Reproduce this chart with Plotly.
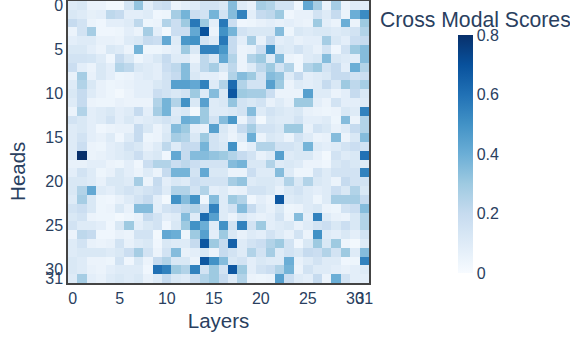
import plotly.graph_objects as go

layers = list(range(32))
heads = list(range(32))
tick_vals = [0, 5, 10, 15, 20, 25, 30, 31]

head_00 = [0.10, 0.12, 0.05, 0.05, 0.02, 0.02, 0.14, 0.32, 0.08, 0.16, 0.18, 0.05, 0.08, 0.10, 0.15, 0.15,
           0.12, 0.35, 0.10, 0.06, 0.28, 0.25, 0.15, 0.15, 0.03, 0.42, 0.28, 0.05, 0.28, 0.05, 0.10, 0.08]
head_01 = [0.12, 0.10, 0.07, 0.08, 0.22, 0.20, 0.08, 0.08, 0.10, 0.03, 0.04, 0.28, 0.38, 0.18, 0.15, 0.38,
           0.15, 0.35, 0.55, 0.08, 0.20, 0.22, 0.30, 0.03, 0.06, 0.06, 0.15, 0.10, 0.20, 0.05, 0.40, 0.52]
head_02 = [0.20, 0.15, 0.05, 0.03, 0.08, 0.08, 0.10, 0.22, 0.04, 0.05, 0.25, 0.18, 0.30, 0.58, 0.30, 0.08,
           0.58, 0.18, 0.03, 0.04, 0.06, 0.08, 0.06, 0.08, 0.06, 0.05, 0.30, 0.08, 0.05, 0.40, 0.05, 0.30]
head_03 = [0.05, 0.15, 0.28, 0.03, 0.03, 0.04, 0.08, 0.05, 0.28, 0.08, 0.02, 0.18, 0.18, 0.42, 0.70, 0.05,
           0.50, 0.38, 0.15, 0.12, 0.12, 0.12, 0.35, 0.04, 0.12, 0.10, 0.12, 0.12, 0.10, 0.12, 0.15, 0.25]
head_04 = [0.08, 0.10, 0.10, 0.06, 0.06, 0.05, 0.10, 0.12, 0.20, 0.18, 0.42, 0.10, 0.48, 0.50, 0.15, 0.10,
           0.58, 0.20, 0.08, 0.28, 0.06, 0.20, 0.08, 0.10, 0.06, 0.08, 0.08, 0.28, 0.12, 0.08, 0.18, 0.20]
head_05 = [0.12, 0.12, 0.08, 0.05, 0.12, 0.10, 0.05, 0.38, 0.04, 0.04, 0.06, 0.08, 0.30, 0.12, 0.55, 0.55,
           0.48, 0.20, 0.05, 0.06, 0.18, 0.50, 0.12, 0.10, 0.15, 0.10, 0.06, 0.15, 0.03, 0.15, 0.30, 0.35]
head_06 = [0.15, 0.15, 0.14, 0.10, 0.03, 0.20, 0.12, 0.04, 0.08, 0.12, 0.20, 0.10, 0.10, 0.05, 0.22, 0.12,
           0.42, 0.25, 0.05, 0.25, 0.30, 0.10, 0.35, 0.05, 0.03, 0.10, 0.12, 0.35, 0.12, 0.10, 0.08, 0.35]
head_07 = [0.18, 0.08, 0.05, 0.12, 0.08, 0.25, 0.22, 0.12, 0.10, 0.08, 0.18, 0.22, 0.35, 0.10, 0.22, 0.28,
           0.12, 0.22, 0.05, 0.10, 0.22, 0.30, 0.15, 0.25, 0.03, 0.25, 0.30, 0.15, 0.20, 0.08, 0.40, 0.25]
head_08 = [0.06, 0.28, 0.06, 0.12, 0.08, 0.04, 0.05, 0.08, 0.10, 0.08, 0.15, 0.20, 0.35, 0.12, 0.08, 0.08,
           0.05, 0.25, 0.35, 0.30, 0.15, 0.35, 0.32, 0.10, 0.20, 0.08, 0.10, 0.12, 0.20, 0.20, 0.15, 0.18]
head_09 = [0.10, 0.25, 0.12, 0.06, 0.04, 0.05, 0.06, 0.08, 0.08, 0.12, 0.15, 0.45, 0.45, 0.42, 0.55, 0.10,
           0.25, 0.62, 0.25, 0.15, 0.15, 0.45, 0.30, 0.05, 0.10, 0.08, 0.10, 0.20, 0.12, 0.30, 0.22, 0.28]
head_10 = [0.12, 0.20, 0.10, 0.06, 0.04, 0.02, 0.05, 0.08, 0.08, 0.18, 0.15, 0.12, 0.15, 0.30, 0.10, 0.35,
           0.12, 0.68, 0.30, 0.28, 0.28, 0.18, 0.05, 0.05, 0.05, 0.45, 0.10, 0.10, 0.05, 0.08, 0.20, 0.12]
head_11 = [0.10, 0.20, 0.05, 0.04, 0.04, 0.06, 0.05, 0.05, 0.05, 0.25, 0.38, 0.25, 0.50, 0.12, 0.45, 0.10,
           0.12, 0.32, 0.15, 0.12, 0.15, 0.06, 0.10, 0.06, 0.30, 0.30, 0.08, 0.05, 0.15, 0.08, 0.08, 0.10]
head_12 = [0.05, 0.25, 0.08, 0.10, 0.12, 0.08, 0.10, 0.20, 0.08, 0.28, 0.38, 0.10, 0.12, 0.02, 0.30, 0.10,
           0.10, 0.12, 0.15, 0.35, 0.10, 0.15, 0.12, 0.10, 0.12, 0.06, 0.05, 0.04, 0.05, 0.12, 0.10, 0.55]
head_13 = [0.15, 0.12, 0.08, 0.10, 0.15, 0.08, 0.12, 0.08, 0.10, 0.12, 0.15, 0.12, 0.40, 0.38, 0.30, 0.15,
           0.35, 0.48, 0.05, 0.18, 0.02, 0.12, 0.10, 0.10, 0.15, 0.08, 0.08, 0.10, 0.04, 0.35, 0.05, 0.25]
head_14 = [0.10, 0.12, 0.08, 0.03, 0.05, 0.06, 0.06, 0.20, 0.12, 0.05, 0.10, 0.35, 0.30, 0.08, 0.06, 0.45,
           0.12, 0.06, 0.20, 0.28, 0.15, 0.15, 0.12, 0.30, 0.30, 0.06, 0.15, 0.12, 0.06, 0.10, 0.20, 0.25]
head_15 = [0.10, 0.15, 0.08, 0.06, 0.10, 0.03, 0.10, 0.20, 0.04, 0.05, 0.12, 0.28, 0.25, 0.12, 0.30, 0.15,
           0.10, 0.05, 0.10, 0.40, 0.05, 0.12, 0.10, 0.05, 0.15, 0.10, 0.05, 0.06, 0.35, 0.05, 0.12, 0.35]
head_16 = [0.10, 0.18, 0.05, 0.04, 0.08, 0.10, 0.15, 0.12, 0.06, 0.10, 0.22, 0.10, 0.20, 0.20, 0.38, 0.15,
           0.12, 0.50, 0.04, 0.08, 0.25, 0.25, 0.15, 0.15, 0.12, 0.38, 0.10, 0.08, 0.10, 0.15, 0.18, 0.15]
head_17 = [0.10, 0.80, 0.05, 0.06, 0.08, 0.10, 0.12, 0.18, 0.10, 0.12, 0.03, 0.42, 0.20, 0.35, 0.35, 0.32,
           0.30, 0.25, 0.20, 0.15, 0.06, 0.10, 0.45, 0.10, 0.12, 0.12, 0.06, 0.02, 0.15, 0.10, 0.12, 0.60]
head_18 = [0.06, 0.06, 0.08, 0.08, 0.05, 0.04, 0.08, 0.03, 0.18, 0.25, 0.25, 0.18, 0.22, 0.18, 0.15, 0.15,
           0.15, 0.35, 0.38, 0.12, 0.12, 0.25, 0.10, 0.12, 0.10, 0.05, 0.05, 0.03, 0.12, 0.15, 0.12, 0.10]
head_19 = [0.08, 0.15, 0.10, 0.04, 0.06, 0.12, 0.08, 0.05, 0.10, 0.05, 0.20, 0.38, 0.38, 0.15, 0.42, 0.12,
           0.12, 0.05, 0.05, 0.18, 0.10, 0.10, 0.35, 0.10, 0.04, 0.04, 0.15, 0.10, 0.15, 0.15, 0.15, 0.55]
head_20 = [0.12, 0.12, 0.10, 0.06, 0.12, 0.12, 0.10, 0.28, 0.05, 0.20, 0.08, 0.12, 0.10, 0.18, 0.15, 0.15,
           0.15, 0.28, 0.32, 0.10, 0.12, 0.12, 0.10, 0.25, 0.12, 0.25, 0.12, 0.10, 0.05, 0.20, 0.15, 0.15]
head_21 = [0.12, 0.25, 0.42, 0.10, 0.08, 0.12, 0.15, 0.12, 0.15, 0.18, 0.10, 0.25, 0.25, 0.15, 0.25, 0.08,
           0.10, 0.05, 0.06, 0.15, 0.15, 0.12, 0.06, 0.12, 0.15, 0.10, 0.08, 0.10, 0.18, 0.12, 0.25, 0.12]
head_22 = [0.10, 0.28, 0.12, 0.04, 0.03, 0.06, 0.10, 0.15, 0.20, 0.08, 0.02, 0.50, 0.35, 0.50, 0.03, 0.35,
           0.10, 0.30, 0.25, 0.03, 0.08, 0.05, 0.68, 0.10, 0.12, 0.10, 0.04, 0.10, 0.28, 0.28, 0.28, 0.20]
head_23 = [0.15, 0.18, 0.12, 0.04, 0.05, 0.12, 0.06, 0.35, 0.35, 0.08, 0.15, 0.18, 0.22, 0.25, 0.18, 0.55,
           0.10, 0.15, 0.35, 0.20, 0.10, 0.06, 0.12, 0.04, 0.05, 0.10, 0.12, 0.05, 0.04, 0.15, 0.18, 0.35]
head_24 = [0.12, 0.15, 0.05, 0.04, 0.04, 0.02, 0.04, 0.06, 0.20, 0.15, 0.08, 0.10, 0.35, 0.10, 0.62, 0.45,
           0.10, 0.05, 0.12, 0.08, 0.06, 0.08, 0.15, 0.05, 0.35, 0.08, 0.55, 0.10, 0.06, 0.05, 0.12, 0.25]
head_25 = [0.15, 0.10, 0.10, 0.08, 0.03, 0.12, 0.30, 0.08, 0.12, 0.15, 0.03, 0.12, 0.30, 0.50, 0.40, 0.10,
           0.50, 0.15, 0.55, 0.15, 0.30, 0.08, 0.10, 0.12, 0.06, 0.10, 0.15, 0.18, 0.12, 0.18, 0.12, 0.25]
head_26 = [0.05, 0.22, 0.20, 0.03, 0.03, 0.06, 0.05, 0.15, 0.15, 0.02, 0.42, 0.40, 0.04, 0.30, 0.45, 0.08,
           0.30, 0.12, 0.06, 0.10, 0.08, 0.15, 0.10, 0.06, 0.15, 0.05, 0.50, 0.10, 0.08, 0.12, 0.08, 0.15]
head_27 = [0.10, 0.15, 0.06, 0.05, 0.06, 0.15, 0.06, 0.10, 0.12, 0.03, 0.12, 0.10, 0.10, 0.20, 0.68, 0.30,
           0.20, 0.65, 0.10, 0.15, 0.18, 0.25, 0.30, 0.15, 0.03, 0.12, 0.30, 0.12, 0.30, 0.04, 0.02, 0.10]
head_28 = [0.10, 0.12, 0.12, 0.12, 0.10, 0.12, 0.18, 0.28, 0.15, 0.05, 0.15, 0.35, 0.06, 0.08, 0.12, 0.05,
           0.20, 0.15, 0.10, 0.25, 0.15, 0.28, 0.10, 0.15, 0.12, 0.20, 0.18, 0.25, 0.15, 0.30, 0.10, 0.35]
head_29 = [0.12, 0.10, 0.05, 0.05, 0.04, 0.15, 0.03, 0.12, 0.05, 0.20, 0.25, 0.12, 0.12, 0.05, 0.68, 0.50,
           0.35, 0.12, 0.15, 0.08, 0.12, 0.10, 0.10, 0.40, 0.06, 0.10, 0.15, 0.10, 0.10, 0.03, 0.04, 0.55]
head_30 = [0.12, 0.10, 0.06, 0.05, 0.08, 0.10, 0.10, 0.10, 0.03, 0.60, 0.55, 0.30, 0.25, 0.55, 0.15, 0.30,
           0.15, 0.68, 0.30, 0.08, 0.15, 0.18, 0.25, 0.38, 0.05, 0.15, 0.10, 0.10, 0.08, 0.06, 0.08, 0.10]
head_31 = [0.10, 0.28, 0.08, 0.06, 0.10, 0.12, 0.10, 0.12, 0.06, 0.10, 0.20, 0.12, 0.10, 0.18, 0.25, 0.30,
           0.20, 0.10, 0.25, 0.05, 0.04, 0.05, 0.45, 0.18, 0.10, 0.08, 0.20, 0.05, 0.40, 0.15, 0.08, 0.08]

scores = [head_00, head_01, head_02, head_03, head_04, head_05, head_06, head_07,
          head_08, head_09, head_10, head_11, head_12, head_13, head_14, head_15,
          head_16, head_17, head_18, head_19, head_20, head_21, head_22, head_23,
          head_24, head_25, head_26, head_27, head_28, head_29, head_30, head_31]

FONT = "Liberation Sans, Arial, sans-serif"
TXT = "#2a3f5f"

fig = go.Figure(go.Heatmap(
    z=scores, x=layers, y=heads,
    colorscale="Blues", zmin=0, zmax=0.8,
    colorbar=dict(
        tickvals=[0, 0.2, 0.4, 0.6, 0.8], ticktext=["0", "0.2", "0.4", "0.6", "0.8"],
        tickfont=dict(size=16, color=TXT, family=FONT),
        thickness=15, outlinewidth=0,
        x=1.2625, xanchor="left", xpad=10,
        y=0.035, yanchor="bottom", len=0.844, ypad=0,
    ),
))

fig.update_layout(
    width=570, height=337,
    margin=dict(l=68, r=201, t=1, b=54, autoexpand=False),
    paper_bgcolor="white", plot_bgcolor="white",
    font=dict(family=FONT, color=TXT, size=16),
    xaxis=dict(
        title=dict(text="Layers", font=dict(size=20.5, color=TXT, family=FONT), standoff=8),
        tickvals=tick_vals, tickangle=0, tickfont=dict(size=16, color=TXT),
        ticklabeloverflow="allow",
        showline=True, mirror=True, linecolor="#444", linewidth=1.5,
        showgrid=False, zeroline=False, ticks="", automargin=False,
    ),
    yaxis=dict(
        tickvals=tick_vals, autorange="reversed", tickfont=dict(size=16, color=TXT),
        ticklabeloverflow="allow",
        showline=True, mirror=True, linecolor="#444", linewidth=1.5,
        showgrid=False, zeroline=False, ticks="", automargin=False,
    ),
    annotations=[
        dict(text="Heads", textangle=-90, xref="paper", yref="paper",
             x=-0.166, y=0.394, xanchor="center", yanchor="middle", showarrow=False,
             font=dict(size=20.5, color=TXT, family=FONT)),
        dict(text="Cross Modal Scores", xref="paper", yref="paper",
             x=1.354, y=0.935, xanchor="center", yanchor="middle", showarrow=False,
             font=dict(size=21.2, color=TXT, family=FONT)),
    ],
)

fig.write_html("out.html", config={"displayModeBar": False},
               post_script="document.body.style.margin='0';")
